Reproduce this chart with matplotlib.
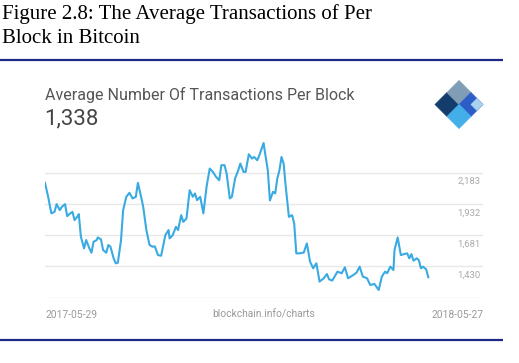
import matplotlib
matplotlib.use("Agg")
import matplotlib.pyplot as plt
from matplotlib.patches import Polygon

# days since 2017-05-29
days = [0, 3, 6, 9, 11, 14, 16, 19, 21, 24, 26, 28, 31, 32, 34, 37, 39, 42, 44, 46,
        49, 50, 53, 55, 58, 60, 62, 65, 67, 69, 72, 74, 77, 80, 83, 86, 88, 91, 93, 96,
        99, 102, 104, 107, 110, 114, 117, 118, 121, 124, 126, 129, 131, 134, 137, 140,
        142, 144, 147, 150, 153, 156, 159, 162, 165, 167, 170, 172, 175, 177, 180, 183,
        185, 188, 190, 193, 196, 198, 201, 203, 207, 208, 211, 213, 216, 218, 220, 222,
        224, 226, 228, 231, 234, 236, 238, 241, 245, 248, 251, 254, 257, 260, 264, 267,
        269, 272, 277, 281, 284, 287, 292, 295, 298, 301, 305, 308, 312, 316, 319, 322,
        324, 327, 330, 331, 334, 337, 340, 343, 345, 347, 349, 352, 354, 356, 358, 361,
        363]
tx_per_block = [2100, 1988, 1855, 1867, 1929, 1881, 1908, 1929, 1833, 1855, 1867, 1801,
                1833, 1849, 1667, 1574, 1641, 1574, 1539, 1627, 1641, 1662, 1646, 1561,
                1539, 1601, 1587, 1494, 1454, 1459, 1641, 1881, 1988, 2020, 1975, 1988,
                2100, 1988, 1908, 1721, 1601, 1587, 1590, 1520, 1515, 1681, 1721, 1654,
                1681, 1747, 1721, 1841, 1787, 1814, 2041, 1988, 2015, 1961, 1988, 1855,
                2068, 2215, 2188, 2148, 2121, 2242, 2242, 2175, 1975, 1988, 2135, 2201,
                2255, 2188, 2188, 2330, 2295, 2308, 2282, 2322, 2420, 2362, 2201, 1959,
                2028, 2015, 2135, 2201, 2308, 2255, 2068, 1827, 1841, 1774, 1534, 1534,
                1540, 1614, 1467, 1414, 1454, 1307, 1334, 1368, 1326, 1315, 1387, 1374,
                1422, 1334, 1360, 1379, 1427, 1347, 1334, 1280, 1288, 1240, 1347, 1387,
                1374, 1427, 1400, 1561, 1662, 1520, 1528, 1534, 1494, 1528, 1475, 1494,
                1480, 1414, 1427, 1406, 1342]

grid_vals = [1179, 1430, 1681, 1932, 2183]
grid_labels = ["", "1,430", "1,681", "1,932", "2,183"]

W, H = 519, 363
fig = plt.figure(figsize=(W / 100, H / 100), dpi=100)
fig.patch.set_facecolor("white")

# overlay in pixel coordinates for the page furniture
ov = fig.add_axes([0, 0, 1, 1])
ov.set_xlim(0, W)
ov.set_ylim(H, 0)
ov.axis("off")

serif = "Liberation Serif"
ov.text(2, 19, "Figure 2.8: The Average Transactions of Per", family=serif,
        fontsize=15, color="black", va="baseline")
ov.text(2, 43, "Block in Bitcoin", family=serif, fontsize=15, color="black",
        va="baseline")
ov.plot([0, 503], [60, 60], color="#1c2a85", lw=1.6, solid_capstyle="butt")
ov.plot([0, 503], [340, 340], color="#1c2a85", lw=1.6, solid_capstyle="butt")

sans = "Roboto"
ov.text(45, 95, "Average Number Of Transactions Per Block", family=sans,
        fontsize=11.5, color="#555555", va="center")
ov.text(44, 119, "1,338", family=sans, fontsize=16, color="#444444", va="center")
ov.text(45, 315, "2017-05-29", family=sans, fontsize=7.4, color="#9a9a9a", va="center")
ov.text(264, 315, "blockchain.info/charts", family=sans, fontsize=7.4,
        color="#9a9a9a", va="center", ha="center")
ov.text(483, 315, "2018-05-27", family=sans, fontsize=7.4, color="#9a9a9a",
        va="center", ha="right")

# logo: diamond split in quadrants
cx, cy, r = 459, 104.5, 24
L, T, R, B = (cx - r, cy), (cx, cy - r), (cx + r, cy), (cx, cy + r)
C = (cx, cy)
mid = lambda a, b: ((a[0] + b[0]) / 2, (a[1] + b[1]) / 2)
mLT, mTR, mRB, mBL = mid(L, T), mid(T, R), mid(R, B), mid(B, L)
pieces = [
    ([L, mLT, C, mBL], "#143c6c"),
    ([mLT, T, mTR, C], "#7f9db5"),
    ([C, mTR, R, mRB], "#2d5dc6"),
    ([mid(C, R), mid(mTR, R), R, mid(R, mRB)], "#a9d3ef"),
    ([mBL, C, mRB, B], "#43aee8"),
]
for pts, col in pieces:
    ov.add_patch(Polygon(pts, closed=True, facecolor=col, edgecolor=col,
                         lw=0.5, joinstyle="round"))

# chart area
x0, x1, ytop, ybot = 45, 483, 140, 298
ax = fig.add_axes([x0 / W, 1 - ybot / H, (x1 - x0) / W, (ybot - ytop) / H])
px_per_day = (428.3 - 45) / 363
ax.set_xlim(0, (x1 - x0) / px_per_day)
units_per_px = 8.03
ax.set_ylim(1430 - (ybot - 266.3) * units_per_px, 1430 + (266.3 - ytop) * units_per_px)
ax.axis("off")

for v, lab in zip(grid_vals, grid_labels):
    ax.axhline(v, color="#e8e8e8", lw=1.0, zorder=1)
    if lab:
        ax.annotate(lab, xy=(1, v), xycoords=("axes fraction", "data"),
                    xytext=(-2.5, -9), textcoords="offset pixels",
                    ha="right", va="center", family=sans, fontsize=6.8,
                    color="#aaaaaa")

ax.plot(days, tx_per_block, color="#3aaae2", lw=1.5, zorder=3,
        solid_joinstyle="round")

fig.savefig("out.png", dpi=100, facecolor="white")
